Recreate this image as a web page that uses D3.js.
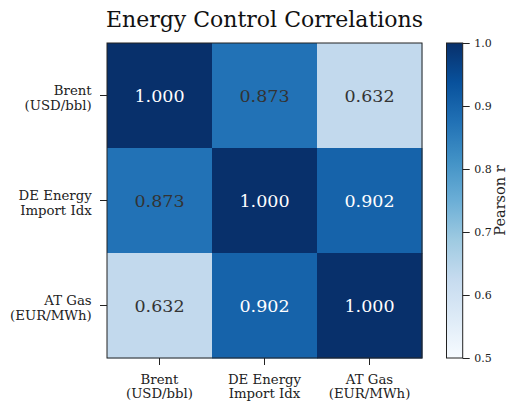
<!DOCTYPE html>
<html><head><meta charset="utf-8">
<script src="https://cdn.jsdelivr.net/npm/d3@7"></script>
<style>body{margin:0;background:#fff}svg{display:block}text{font-family:"DejaVu Serif",serif}</style>
</head><body>
<script>
const labels = [["Brent","(USD/bbl)"],["DE Energy","Import Idx"],["AT Gas","(EUR/MWh)"]];
const matrix = [
  [1.000, 0.873, 0.632],
  [0.873, 1.000, 0.902],
  [0.632, 0.902, 1.000]
];
const cbTicks = [0.5, 0.6, 0.7, 0.8, 0.9, 1.0];
const title = "Energy Control Correlations";
const cbLabel = "Pearson r";

const W = 508, H = 406;
const mLeft = 107, mTop = 43, size = 315;
const svg = d3.select("body").append("svg").attr("width", W).attr("height", H);

const blues = ["#f7fbff","#deebf7","#c6dbef","#9ecae1","#6baed6","#4292c6","#2171b5","#08519c","#08306b"];
const cmap = d3.scaleLinear().domain(d3.range(9).map(i => 0.5 + 0.5 * i / 8)).range(blues).clamp(true);

const idx = d3.range(labels.length);
const x = d3.scaleBand().domain(idx).range([mLeft, mLeft + size]);
const y = d3.scaleBand().domain(idx).range([mTop, mTop + size]);

const cells = [];
matrix.forEach((row, i) => row.forEach((v, j) => cells.push({i, j, v})));

svg.append("g").selectAll("rect").data(cells).join("rect")
  .attr("x", d => x(d.j)).attr("y", d => y(d.i))
  .attr("width", x.bandwidth() + 0.5).attr("height", y.bandwidth() + 0.5)
  .attr("fill", d => cmap(d.v));

svg.append("g").selectAll("text").data(cells).join("text")
  .attr("x", d => x(d.j) + x.bandwidth() / 2)
  .attr("y", d => y(d.i) + y.bandwidth() / 2)
  .attr("dy", "0.36em")
  .attr("text-anchor", "middle")
  .attr("font-size", 17.5)
  .attr("fill", d => d.v >= 0.9 ? "#ffffff" : "#333333")
  .text(d => d.v.toFixed(3));

// frame
svg.append("rect").attr("x", mLeft).attr("y", mTop).attr("width", size).attr("height", size)
  .attr("fill", "none").attr("stroke", "#222").attr("stroke-width", 1);

// axes
const xAxis = svg.append("g").attr("transform", `translate(0,${mTop + size})`)
  .call(d3.axisBottom(x).tickSize(7).tickFormat(""));
const yAxis = svg.append("g").attr("transform", `translate(${mLeft},0)`)
  .call(d3.axisLeft(y).tickSize(7).tickFormat(""));
[xAxis, yAxis].forEach(a => { a.select(".domain").remove(); a.selectAll("line").attr("stroke", "#222"); });

xAxis.selectAll(".tick").each(function(d) {
  const t = d3.select(this).append("text").attr("text-anchor", "middle")
    .attr("font-size", 13.3).attr("fill", "#222");
  labels[d].forEach((s, k) => t.append("tspan").attr("x", 0).attr("y", 25.5 + k * 14.5).text(s));
});
yAxis.selectAll(".tick").each(function(d) {
  const t = d3.select(this).append("text").attr("text-anchor", "end")
    .attr("font-size", 13.3).attr("fill", "#222");
  labels[d].forEach((s, k) => t.append("tspan").attr("x", -15.3).attr("y", -0.5 + k * 14.5).text(s));
});

// title
svg.append("text").attr("x", mLeft + size / 2).attr("y", 27).attr("text-anchor", "middle")
  .attr("font-size", 22).attr("fill", "#111").text(title);

// colorbar
const cbX = 446.5, cbW = 16.2;
const cy = d3.scaleLinear().domain([0.5, 1.0]).range([mTop + size, mTop]);
const defs = svg.append("defs");
const grad = defs.append("linearGradient").attr("id", "cbg").attr("x1", 0).attr("y1", 1).attr("x2", 0).attr("y2", 0);
blues.forEach((c, i) => grad.append("stop").attr("offset", i / 8).attr("stop-color", c));
svg.append("rect").attr("x", cbX).attr("y", mTop).attr("width", cbW).attr("height", size)
  .attr("fill", "url(#cbg)").attr("stroke", "#222").attr("stroke-width", 1);
const cbAxis = svg.append("g").attr("transform", `translate(${cbX + cbW},0)`)
  .call(d3.axisRight(cy).tickValues(cbTicks).tickSize(7).tickFormat(d3.format(".1f")));
cbAxis.select(".domain").remove();
cbAxis.selectAll("line").attr("stroke", "#222");
cbAxis.selectAll("text").attr("font-size", 11).attr("fill", "#222")
  .attr("font-family", "DejaVu Serif").attr("x", 11.5);
svg.append("text").attr("transform", `translate(505,${mTop + size / 2}) rotate(-90)`)
  .attr("text-anchor", "middle").attr("font-size", 14.5).attr("fill", "#222").text(cbLabel);
</script>
</body></html>
